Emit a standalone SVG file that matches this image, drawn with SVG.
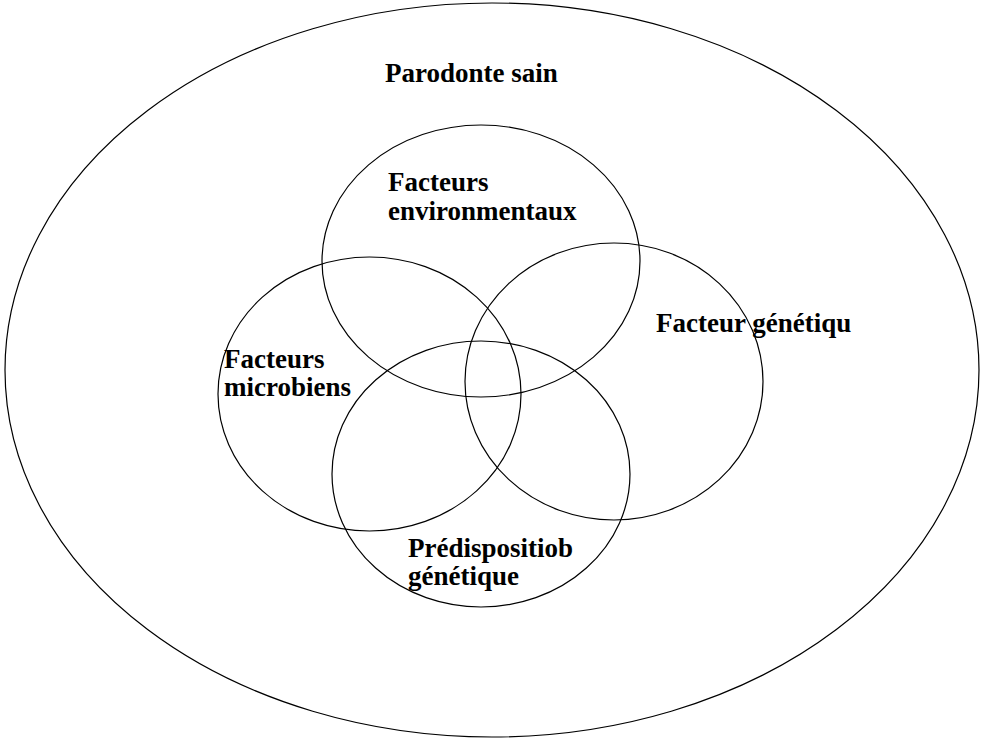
<svg xmlns="http://www.w3.org/2000/svg" width="985" height="740" viewBox="0 0 985 740">
  <style>
    .ring { fill: none; stroke: #000; stroke-width: 1.2; }
    .lbl { font-family: "Liberation Serif", "Times New Roman", serif; font-weight: bold; font-size: 27px; fill: #000; }
  </style>
  <rect width="985" height="740" fill="#fff"/>
  <!-- outer field: healthy periodontium -->
  <g id="parodonte">
    <ellipse class="ring" cx="492" cy="370" rx="487" ry="367"/>
    <text class="lbl" x="385" y="82">Parodonte sain</text>
  </g>
  <g id="environnementaux">
    <ellipse class="ring" cx="481" cy="261" rx="159" ry="136"/>
    <text class="lbl" x="388" y="191">Facteurs</text>
    <text class="lbl" x="388" y="220">environmentaux</text>
  </g>
  <g id="microbiens">
    <ellipse class="ring" cx="369.5" cy="394" rx="151.5" ry="137"/>
    <text class="lbl" x="224" y="368">Facteurs</text>
    <text class="lbl" x="224" y="396">microbiens</text>
  </g>
  <g id="genetique">
    <ellipse class="ring" cx="614" cy="381.5" rx="149" ry="138.5"/>
    <text class="lbl" x="656" y="332">Facteur génétiqu</text>
  </g>
  <g id="predisposition">
    <ellipse class="ring" cx="481" cy="474" rx="149" ry="133"/>
    <text class="lbl" x="408" y="557">Prédispositiob</text>
    <text class="lbl" x="408" y="585">génétique</text>
  </g>
  <g id="connectors"/>
</svg>
